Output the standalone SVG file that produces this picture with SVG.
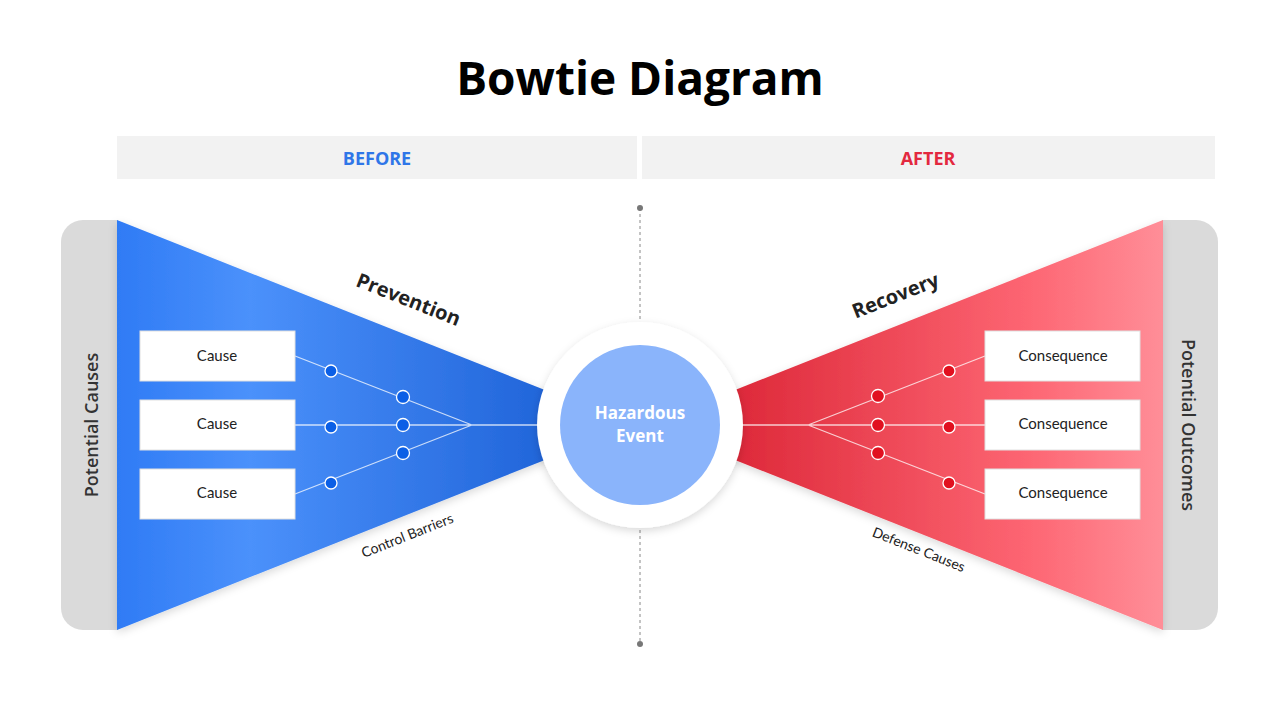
<svg xmlns="http://www.w3.org/2000/svg" width="1280" height="720" viewBox="0 0 1280 720">
<defs>
<linearGradient id="gb" x1="0" y1="0" x2="1" y2="0"><stop offset="0" stop-color="#2f7bf5"/><stop offset="0.3" stop-color="#4b91fb"/><stop offset="1" stop-color="#1f63d8"/></linearGradient>
<linearGradient id="gr" x1="0" y1="0" x2="1" y2="0"><stop offset="0" stop-color="#dc2637"/><stop offset="0.7" stop-color="#fd6673"/><stop offset="1" stop-color="#ff8e98"/></linearGradient>
<filter id="sh" x="-20%" y="-20%" width="140%" height="140%"><feDropShadow dx="0" dy="3" stdDeviation="4" flood-color="#000" flood-opacity="0.15"/></filter>
</defs>
<style>
.t{font-family:"Open Sans","Noto Sans",sans-serif}
.box{fill:#fff;stroke:#e0e0e0;stroke-width:1}
.bl{font-family:"Lato","Open Sans",sans-serif;font-size:15px;fill:#222;text-anchor:middle}
.ln{stroke:#fff;stroke-opacity:0.75;stroke-width:1.3;fill:none}
.db{fill:#0b5fe6;stroke:#fff;stroke-width:1.3}
.dr{fill:#e1101f;stroke:#fff;stroke-width:1.3}
</style>
<rect width="1280" height="720" fill="#fff"/>
<text x="640" y="95" class="t" font-size="46" font-weight="700" text-anchor="middle" fill="#000">Bowtie Diagram</text>
<rect x="117" y="136" width="520" height="43" fill="#f2f2f2"/>
<rect x="642" y="136" width="573" height="43" fill="#f2f2f2"/>
<text x="377" y="165" class="t" font-size="18" font-weight="700" fill="#2f76e8" text-anchor="middle">BEFORE</text>
<text x="928" y="165" class="t" font-size="18" font-weight="700" fill="#e3293f" text-anchor="middle">AFTER</text>
<g id="dash"><line x1="640" y1="208" x2="640" y2="322" stroke="#888" stroke-dasharray="3 3"/><line x1="640" y1="530" x2="640" y2="644" stroke="#888" stroke-dasharray="3 3"/><circle cx="640" cy="208" r="3" fill="#777"/><circle cx="640" cy="644" r="3" fill="#777"/></g>
<path d="M118 220 H83 A22 22 0 0 0 61 242 V608 A22 22 0 0 0 83 630 H118 Z" fill="#dadada"/>
<path d="M1162 220 H1196 A22 22 0 0 1 1218 242 V608 A22 22 0 0 1 1196 630 H1162 Z" fill="#dadada"/>
<text transform="translate(98,425) rotate(-90)" class="t" font-size="18" font-weight="600" fill="#333" text-anchor="middle">Potential Causes</text>
<text transform="translate(1182,425) rotate(90)" class="t" font-size="18" font-weight="600" fill="#333" text-anchor="middle">Potential Outcomes</text>
<polygon points="117,220 560,396 560,454 117,630" fill="url(#gb)" filter="url(#sh)"/>
<polygon points="1163,220 720,396 720,454 1163,630" fill="url(#gr)" filter="url(#sh)"/>
<g id="center"><circle cx="640" cy="425" r="103" fill="#fff" filter="url(#sh)"/><circle cx="640" cy="425" r="80" fill="#8ab4fb"/>
<text x="640" y="419" class="t" font-size="17" font-weight="700" fill="#fff" text-anchor="middle">Hazardous</text>
<text x="640" y="442" class="t" font-size="17" font-weight="700" fill="#fff" text-anchor="middle">Event</text></g>
<g id="connectors">
<path class="ln" d="M295 356 L472 425 M295 425 L540 425 M295 494 L472 425"/>
<path class="ln" d="M985 356 L808 425 M985 425 L740 425 M985 494 L808 425"/>
<circle class="db" cx="331" cy="371" r="6"/><circle class="db" cx="403" cy="397" r="6.5"/>
<circle class="db" cx="331" cy="427" r="6"/><circle class="db" cx="403" cy="425" r="6.5"/>
<circle class="db" cx="331" cy="483" r="6"/><circle class="db" cx="403" cy="453" r="6.5"/>
<circle class="dr" cx="949" cy="371" r="6"/><circle class="dr" cx="878" cy="396" r="6.5"/>
<circle class="dr" cx="949" cy="427" r="6"/><circle class="dr" cx="878" cy="425" r="6.5"/>
<circle class="dr" cx="949" cy="483" r="6"/><circle class="dr" cx="878" cy="453" r="6.5"/>
</g>
<g id="c1"><rect class="box" x="140" y="331" width="155" height="50"/><text class="bl" x="217" y="361">Cause</text></g>
<g id="c2"><rect class="box" x="140" y="400" width="155" height="50"/><text class="bl" x="217" y="429">Cause</text></g>
<g id="c3"><rect class="box" x="140" y="469" width="155" height="50"/><text class="bl" x="217" y="498">Cause</text></g>
<g id="q1"><rect class="box" x="985" y="331" width="155" height="50"/><text class="bl" x="1063" y="361">Consequence</text></g>
<g id="q2"><rect class="box" x="985" y="400" width="155" height="50"/><text class="bl" x="1063" y="429">Consequence</text></g>
<g id="q3"><rect class="box" x="985" y="469" width="155" height="50"/><text class="bl" x="1063" y="498">Consequence</text></g>
<text transform="translate(406,306) rotate(21.6)" class="t" font-size="20" font-weight="700" fill="#222" text-anchor="middle">Prevention</text>
<text transform="translate(898,302) rotate(-21.6)" class="t" font-size="20" font-weight="700" fill="#222" text-anchor="middle">Recovery</text>
<text transform="translate(409,540) rotate(-21.6)" font-family="Lato,sans-serif" font-size="14" fill="#222" text-anchor="middle">Control Barriers</text>
<text transform="translate(917,554) rotate(21.6)" font-family="Lato,sans-serif" font-size="14" fill="#222" text-anchor="middle">Defense Causes</text>
</svg>
